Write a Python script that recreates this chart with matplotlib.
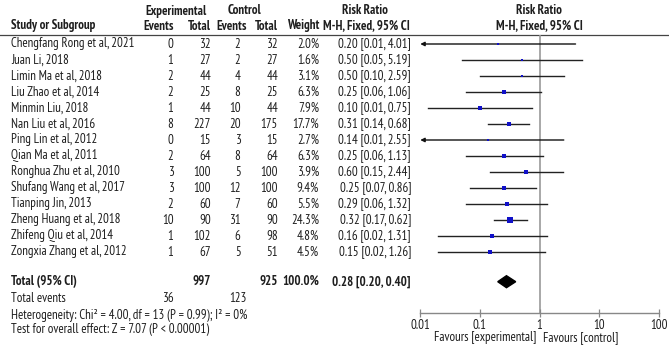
import matplotlib.pyplot as plt
import numpy as np

plt.rcParams['font.family'] = ['PT Sans Narrow', 'DejaVu Sans']

studies = ['Chengfang Rong et al, 2021', 'Juan Li, 2018', 'Limin Ma et al, 2018',
           'Liu Zhao et al, 2014', 'Minmin Liu, 2018', 'Nan Liu et al, 2016',
           'Ping Lin et al, 2012', 'Qian Ma et al, 2011', 'Ronghua Zhu et al, 2010',
           'Shufang Wang et al, 2017', 'Tianping Jin, 2013', 'Zheng Huang et al, 2018',
           'Zhifeng Qiu et al, 2014', 'Zongxia Zhang et al, 2012']
exp_events = [0, 1, 2, 2, 1, 8, 0, 2, 3, 3, 2, 10, 1, 1]
exp_total = [32, 27, 44, 25, 44, 227, 15, 64, 100, 100, 60, 90, 102, 67]
ctl_events = [2, 2, 4, 8, 10, 20, 3, 8, 5, 12, 7, 31, 6, 5]
ctl_total = [32, 27, 44, 25, 44, 175, 15, 64, 100, 100, 60, 90, 98, 51]
weights = [2.0, 1.6, 3.1, 6.3, 7.9, 17.7, 2.7, 6.3, 3.9, 9.4, 5.5, 24.3, 4.8, 4.5]
rr = [0.20, 0.50, 0.50, 0.25, 0.10, 0.31, 0.14, 0.25, 0.60, 0.25, 0.29, 0.32, 0.16, 0.15]
ci_lo = [0.01, 0.05, 0.10, 0.06, 0.01, 0.14, 0.01, 0.06, 0.15, 0.07, 0.06, 0.17, 0.02, 0.02]
ci_hi = [4.01, 5.19, 2.59, 1.06, 0.75, 0.68, 2.55, 1.13, 2.44, 0.86, 1.32, 0.62, 1.31, 1.26]
# lower limits as drawn (unrounded); below 0.01 they run off the scale
ci_lo_drawn = [0.0099, 0.05, 0.10, 0.06, 0.0134, 0.14, 0.008, 0.06, 0.15, 0.07, 0.06, 0.17, 0.02, 0.02]

total_rr, total_lo, total_hi = 0.28, 0.20, 0.40
total_exp, total_ctl = 997, 925
events_exp, events_ctl = 36, 123
x_ticks = [0.01, 0.1, 1, 10, 100]
x_ticklabels = ['0.01', '0.1', '1', '10', '100']

W, H = 669, 348
fs = 9.3
tc = '#1e1e1e'

fig = plt.figure(figsize=(W / 100, H / 100), dpi=100)
ax = fig.add_axes([0, 0, 1, 1])
ax.set_xlim(0, W)
ax.set_ylim(H, 0)
ax.axis('off')

# header
hdr = dict(fontsize=fs, color=tc, fontweight='bold', va='center')
ax.text(176, 11, 'Experimental', ha='center', **hdr)
ax.text(245, 11, 'Control', ha='center', **hdr)
ax.text(365, 11, 'Risk Ratio', ha='center', **hdr)
ax.text(539, 11, 'Risk Ratio', ha='center', **hdr)
ax.text(11, 26, 'Study or Subgroup', ha='left', **hdr)
ax.text(174, 26, 'Events', ha='right', **hdr)
ax.text(211, 26, 'Total', ha='right', **hdr)
ax.text(247, 26, 'Events', ha='right', **hdr)
ax.text(278, 26, 'Total', ha='right', **hdr)
ax.text(319, 26, 'Weight', ha='right', **hdr)
ax.text(366, 26, 'M-H, Fixed, 95% CI', ha='center', **hdr)
ax.text(539, 26, 'M-H, Fixed, 95% CI', ha='center', **hdr)
ax.axhline(35, color='#444444', lw=0.9)

row0, row_h = 44, 16.0
body = dict(fontsize=fs, color=tc, va='center')
for i, name in enumerate(studies):
    y = row0 + i * row_h
    ax.text(11, y, name, ha='left', **body)
    ax.text(173.5, y, str(exp_events[i]), ha='right', **body)
    ax.text(211, y, str(exp_total[i]), ha='right', **body)
    ax.text(240.5, y, str(ctl_events[i]), ha='right', **body)
    ax.text(278, y, str(ctl_total[i]), ha='right', **body)
    ax.text(319, y, f'{weights[i]:.1f}%', ha='right', **body)
    ax.text(411, y, f'{rr[i]:.2f} [{ci_lo[i]:.2f}, {ci_hi[i]:.2f}]', ha='right', **body)

yt = 281.7
bold = dict(body, fontweight='bold')
ax.text(11, yt, 'Total (95% CI)', ha='left', **bold)
ax.text(211, yt, str(total_exp), ha='right', **bold)
ax.text(278, yt, str(total_ctl), ha='right', **bold)
ax.text(319, yt, f'{sum(weights):.1f}%', ha='right', **bold)
ax.text(411, yt, f'{total_rr:.2f} [{total_lo:.2f}, {total_hi:.2f}]', ha='right', **bold)

ax.text(11, 299, 'Total events', ha='left', **body)
ax.text(174, 299, str(events_exp), ha='right', **body)
ax.text(247, 299, str(events_ctl), ha='right', **body)
ax.text(11, 315, 'Heterogeneity: Chi² = 4.00, df = 13 (P = 0.99); I² = 0%', ha='left', **body)
ax.text(11, 329.5, 'Test for overall effect: Z = 7.07 (P < 0.00001)', ha='left', **body)

# forest panel
ax_top, ax_bot = 35, 313
fx0, fx1 = 420, 659
ax2 = fig.add_axes([fx0 / W, 1 - ax_bot / H, (fx1 - fx0) / W, (ax_bot - ax_top) / H])
ax2.set_xscale('log')
ax2.set_xlim(0.01, 100)
ax2.set_ylim(ax_bot, ax_top)
ax2.patch.set_alpha(0)
for s in ['top', 'left', 'right']:
    ax2.spines[s].set_visible(False)
ax2.spines['bottom'].set_color('#888888')
ax2.spines['bottom'].set_linewidth(1.0)
ax2.set_yticks([])
ax2.set_xticks(x_ticks)
ax2.set_xticklabels(x_ticklabels)
ax2.minorticks_off()
ax2.tick_params(axis='x', direction='inout', length=6, width=0.9, color='#888888',
                labelsize=fs, labelcolor=tc, pad=1)
ax2.axvline(1, color='#999999', lw=1.2, zorder=1)

for i in range(len(studies)):
    y = row0 + i * row_h
    lo = ci_lo_drawn[i]
    if lo < 0.01:
        ax2.annotate('', xy=(0.0101, y), xytext=(ci_hi[i], y),
                     arrowprops=dict(arrowstyle='-|>', color='#111111', lw=1.0,
                                     mutation_scale=6, shrinkA=0, shrinkB=0))
    else:
        ax2.plot([lo, ci_hi[i]], [y, y], color='#222222', lw=1.0, zorder=2)
    side = 1.6 + 0.75 * np.sqrt(weights[i])
    ax2.plot(rr[i], y, marker='s', ms=side * 0.72, mew=0, color='#1010c8', zorder=3)

dh = 6
ax2.fill([total_lo, total_rr, total_hi, total_rr], [yt, yt - dh, yt, yt + dh],
         color='black', zorder=3)

ax.text(536, 338, 'Favours [experimental]', ha='right', **body)
ax.text(543, 338, 'Favours [control]', ha='left', **body)

fig.savefig('out.png', dpi=100)
